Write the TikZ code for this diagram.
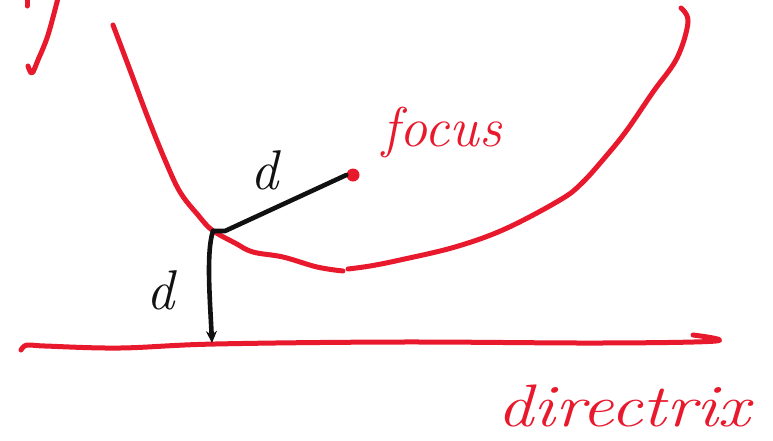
\documentclass[tikz,border=0pt]{standalone}
\usepackage{xcolor}
\usetikzlibrary{arrows.meta}
\definecolor{penred}{HTML}{E8192C}
\definecolor{penink}{HTML}{111111}

\begin{document}
\begin{tikzpicture}[x=1pt, y=-1pt, >={Stealth[length=12pt,width=11pt]},
                    redstroke/.style={penred, line width=5pt, line cap=round, line join=round},
                    inkstroke/.style={penink, line width=4.6pt, line cap=round, line join=round},
                    handred/.style={penred, font=\fontsize{56}{60}\selectfont\itshape, transform shape},
                    handink/.style={penink, font=\fontsize{56}{60}\selectfont\itshape, inner sep=0pt}]

\useasboundingbox (0,0) rectangle (773,440);

%% ==== 左上角的殘筆 ==================================================
\draw[redstroke] (27,0) -- (27,6);
\draw[redstroke] plot[smooth, tension=0.6] coordinates
  {(58,-2) (48,35) (38,60) (32,73) (28,66)};

%% ==== 拋物線 ========================================================
\draw[redstroke] plot[smooth, tension=0.6] coordinates
  {(113,25) (130,70) (148,118) (165,160) (180,192) (198,215) (212,230)
   (235,243) (253,252) (283,257) (317,267) (343,271)};
\draw[redstroke] plot[smooth, tension=0.6] coordinates
  {(348,269) (370,266) (400,260) (455,247) (505,229) (560,200) (582,183)
   (607,155) (627,130) (653,92) (677,58) (688,22) (681,8)};

%% ==== 準線 ==========================================================
\draw[redstroke] plot[smooth, tension=0.6] coordinates
  {(21,350) (27,345) (45,346) (120,348) (215,344) (400,342) (600,343) (716,341) (693,335)};

%% ==== 焦點與頂點 ====================================================
\node[fill=penred, circle, minimum size=13pt, inner sep=0pt] (focus) at (353,175) {};
\coordinate (vertex) at (213,231);
\coordinate (foot)   at (212,343);

%% 兩段相等的距離
\draw[inkstroke] (vertex) -- ([xshift=12pt]vertex) -- (focus.west);
\draw[inkstroke, ->] (vertex) .. controls (206,252) and (210,300) .. (foot);

%% ==== 文字 ==========================================================
\node[handink] (dfocus) at (264,170) {d};
\node[handink] (dline)  at (160,290) {d};
\node[handred] (focuslabel) at (442,132) {focus};
\node[handred, xscale=1.2, font=\fontsize{60}{64}\selectfont\itshape] (directrixlabel)
  at (624,406) {directrix};

\end{tikzpicture}
\end{document}
